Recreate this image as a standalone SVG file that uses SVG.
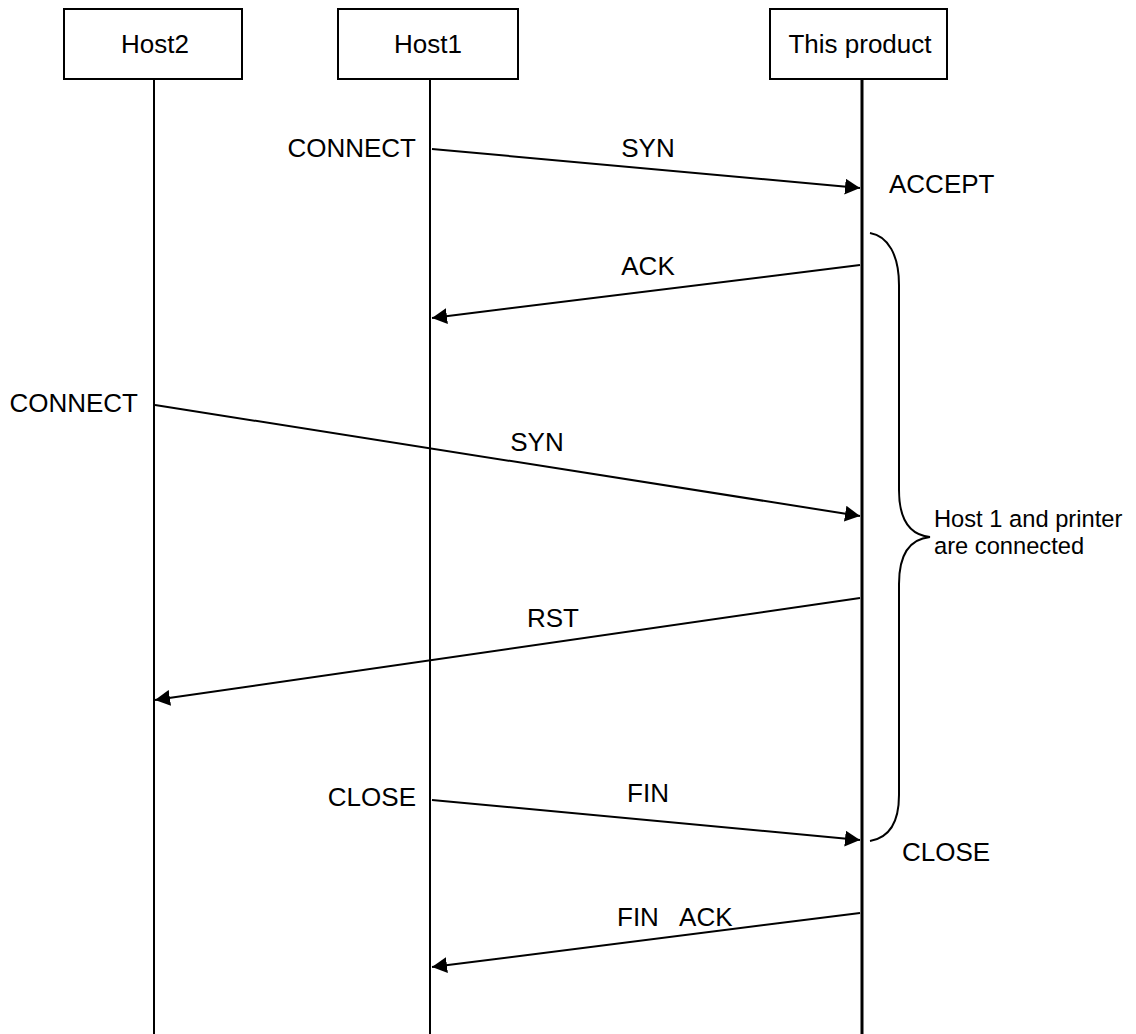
<svg xmlns="http://www.w3.org/2000/svg" width="1136" height="1034" viewBox="0 0 1136 1034">
<style>
text{font-family:"Liberation Sans",Arial,sans-serif;fill:#000}
.box{fill:#fff;stroke:#000;stroke-width:2}
.t{font-size:26px;text-anchor:middle}
.lbl{font-size:26px}
.life{stroke:#000;stroke-width:2;fill:none}
.msg{stroke:#000;stroke-width:2;fill:none;marker-end:url(#ah)}
.note{font-size:23.7px}
</style>
<defs>
<marker id="ah" markerUnits="userSpaceOnUse" markerWidth="16" markerHeight="16" refX="15" refY="8" orient="auto">
<path d="M0,0 L15,8 L0,16 Z" fill="#000"/>
</marker>
</defs>
<g id="host2">
<rect class="box" x="64" y="9" width="178" height="70"/>
<text class="t" x="155" y="53">Host2</text>
<line class="life" x1="154" y1="79" x2="154" y2="1034"/>
</g>
<g id="host1">
<rect class="box" x="338" y="9" width="180" height="70"/>
<text class="t" x="428" y="53">Host1</text>
<line class="life" x1="430" y1="79" x2="430" y2="1034"/>
</g>
<g id="product">
<rect class="box" x="770" y="9" width="177" height="70"/>
<text class="t" x="860" y="53">This product</text>
<line class="life" x1="862" y1="79" x2="862" y2="1034" style="stroke-width:3"/>
</g>
<g id="connectors">
<line class="msg" x1="432" y1="149" x2="860" y2="188"/>
<line class="msg" x1="860" y1="265" x2="432" y2="318"/>
<line class="msg" x1="155" y1="405" x2="860" y2="516"/>
<line class="msg" x1="860" y1="598" x2="155" y2="700"/>
<line class="msg" x1="432" y1="800" x2="860" y2="840"/>
<line class="msg" x1="860" y1="913" x2="432" y2="967"/>
</g>
<g id="labels">
<text class="lbl" x="416" y="157" text-anchor="end">CONNECT</text>
<text class="lbl" x="648" y="157" text-anchor="middle">SYN</text>
<text class="lbl" x="889" y="193">ACCEPT</text>
<text class="lbl" x="648" y="275" text-anchor="middle">ACK</text>
<text class="lbl" x="138" y="412" text-anchor="end">CONNECT</text>
<text class="lbl" x="537" y="451" text-anchor="middle">SYN</text>
<text class="lbl" x="553" y="627" text-anchor="middle">RST</text>
<text class="lbl" x="416" y="806" text-anchor="end">CLOSE</text>
<text class="lbl" x="648" y="802" text-anchor="middle">FIN</text>
<text class="lbl" x="902" y="861">CLOSE</text>
<text class="lbl" x="617" y="926" style="white-space:pre">FIN   ACK</text>
</g>
<g id="brace">
<path d="M870,233 C888,236 899,255 899,285 L899,490 C899,520 910,535 930,537 C910,539 899,554 899,584 L899,795 C899,825 888,838 870,841" fill="none" stroke="#000" stroke-width="2"/>
<text class="note" x="934" y="527">Host 1 and printer</text>
<text class="note" x="934" y="554">are connected</text>
</g>
</svg>
